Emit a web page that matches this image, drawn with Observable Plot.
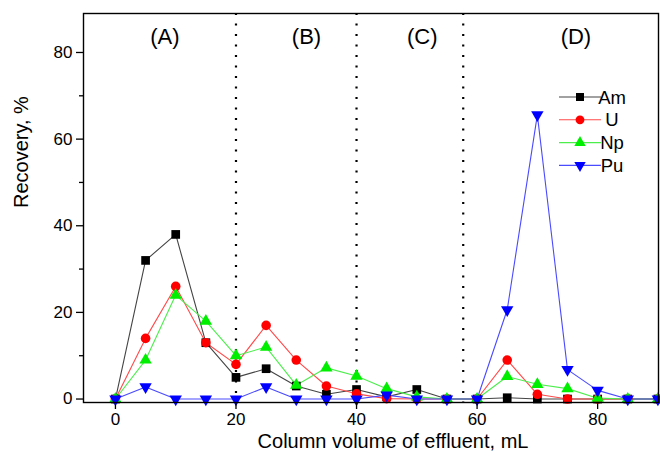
<!DOCTYPE html>
<html>
<head>
<meta charset="utf-8">
<script src="https://cdn.jsdelivr.net/npm/d3@7"></script>
<script src="https://cdn.jsdelivr.net/npm/@observablehq/plot@0.6"></script>
<style>
  html, body { margin: 0; padding: 0; background: #fff; }
  #chart { width: 660px; height: 461px; }
</style>
</head>
<body>
<div id="chart"></div>
<script>
// ---- data ----
const volumes = [0, 5, 10, 15, 20, 25, 30, 35, 40, 45, 50, 55, 60, 65, 70, 75, 80, 85, 90];
const am = [0, 32, 38, 13, 5, 7, 3, 1.1, 2.2, 0.5, 2.2, 0, 0, 0.3, 0, 0, 0, 0, 0];
const u  = [0, 14, 26, 13, 8, 17, 9, 3, 1.2, 0.1, 0, 0, 0, 9, 1.1, 0, 0, 0, 0];
const np = [0, 9, 24, 18, 10, 12, 3.2, 7.2, 5.3, 2.4, 0.5, 0, 0, 5.2, 3.4, 2.4, 0.2, 0, 0];
const pu = [0, 2.8, 0, 0, 0, 2.8, 0, 0, 0, 0.9, 0, 0, 0, 20.6, 65.6, 6.8, 2, 0, 0];

const seriesNames = ["Am", "U", "Np", "Pu"];
const seriesValues = [am, u, np, pu];
const markerColors = ["#000000", "#ff0000", "#00ee00", "#0000ff"];
const lineColors = ["#444444", "#ff4a4a", "#4cee4c", "#4a4aff"];

const dividers = [20, 40, 57.7];
const regionLabels = ["(A)", "(B)", "(C)", "(D)"];
const regionX = [8.2, 31.7, 50.9, 76.4];
const regionY = 83.6;

const xTicks = [0, 20, 40, 60, 80];
const yTicks = [0, 20, 40, 60, 80];
const yMinor = [10, 30, 50, 70];

// ---- symbols ----
function triangleSymbol(dir) {
  return {
    draw(context, size) {
      const s = Math.sqrt(4 * size / Math.sqrt(3));
      const h = s * Math.sqrt(3) / 2;
      context.moveTo(0, dir * 2 * h / 3);
      context.lineTo(-s / 2, -dir * h / 3);
      context.lineTo(s / 2, -dir * h / 3);
      context.closePath();
    }
  };
}
const symbols = [d3.symbolSquare, d3.symbolCircle, triangleSymbol(-1), triangleSymbol(1)];
const radii = [4.9, 4.8, 4.6, 4.6];

const table = seriesNames.map((name, i) =>
  volumes.map((v, j) => ({name, volume: v, recovery: seriesValues[i][j]})));

const FONT = "'Liberation Sans', Arial, sans-serif";

const marks = [
  Plot.ruleX(dividers, {stroke: "black", strokeWidth: 2.2, strokeDasharray: "2,8.5"}),
  Plot.text(regionLabels, {x: (d, i) => regionX[i], y: () => regionY, text: d => d, fontSize: 22, fill: "black"}),
];
table.forEach((rows, i) => {
  marks.push(Plot.line(rows, {x: "volume", y: "recovery", stroke: lineColors[i], strokeWidth: 1.1}));
});
table.forEach((rows, i) => {
  marks.push(Plot.dot(rows, {x: "volume", y: "recovery", fill: markerColors[i], stroke: "none", symbol: symbols[i], r: radii[i]}));
});
marks.push(
  Plot.axisX({ticks: xTicks, tickSize: 7, tickPadding: 3, fontSize: 17, label: null, strokeWidth: 1.3}),
  Plot.axisY({ticks: yTicks, tickSize: 7, tickPadding: 4, fontSize: 17, label: null, strokeWidth: 1.3}),
  Plot.axisY({ticks: yMinor, tickSize: 4, text: null, label: null, strokeWidth: 1.3}),
  Plot.frame({stroke: "black", strokeWidth: 1.4}),
  Plot.text(["Column volume of effluent, mL"], {frameAnchor: "bottom", dy: 45, dx: 22, fontSize: 20, fill: "black"}),
  Plot.text(["Recovery, %"], {frameAnchor: "left", dx: -62, rotate: -90, fontSize: 20, fill: "black"})
);

const svg = Plot.plot({
  width: 660,
  height: 461,
  marginLeft: 83,
  marginRight: 2,
  marginTop: 13,
  marginBottom: 59,
  x: {domain: [-5.3, 90.1]},
  y: {domain: [-0.8, 89]},
  style: {fontFamily: FONT, color: "black", background: "white"},
  marks
});

// ---- legend (drawn relative to the frame's top-right corner) ----
const frameRight = 660 - 2, frameTop = 13;
const leg = d3.select(svg).append("g").attr("font-family", FONT);
seriesNames.forEach((name, i) => {
  const y = frameTop + 84 + i * 22.8;
  const cx = frameRight - 78;
  leg.append("line").attr("x1", frameRight - 99).attr("x2", frameRight - 57)
    .attr("y1", y).attr("y2", y).attr("stroke", lineColors[i]).attr("stroke-width", 1.1);
  leg.append("path").attr("transform", `translate(${cx},${y})`)
    .attr("d", d3.symbol(symbols[i], Math.PI * radii[i] * radii[i] * 0.85)())
    .attr("fill", markerColors[i]);
  leg.append("text").attr("x", frameRight - 46).attr("y", y).attr("dy", "0.36em")
    .attr("font-size", 18.5).attr("fill", "black").text(name);
});

document.getElementById("chart").appendChild(svg);
</script>
</body>
</html>
